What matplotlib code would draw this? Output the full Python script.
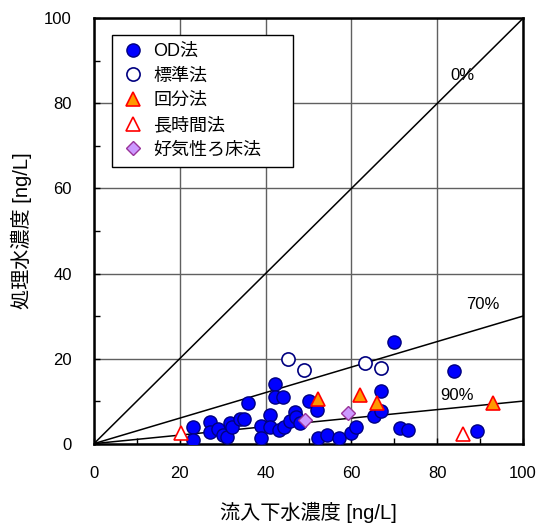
import matplotlib
matplotlib.use("Agg")
import matplotlib.pyplot as plt
from matplotlib.ticker import MultipleLocator

plt.rcParams['font.family'] = ['Liberation Sans', 'Noto Sans CJK JP', 'DejaVu Sans']

# OD法 (filled blue circles)
od_x = [23.1, 23.1, 27.0, 27.0, 29.0, 30.1, 30.9, 31.8, 32.1, 34.0, 35.0, 35.9, 38.9, 38.9,
        41.1, 41.1, 42.1, 42.1, 44.1, 43.1, 44.3, 45.8, 46.9, 47.2, 48.0, 50.1, 52.0, 52.1,
        54.2, 57.2, 59.9, 61.1, 65.3, 67.0, 67.0, 69.9, 71.3, 73.2, 84.0, 89.3]
od_y = [3.95, 0.8, 5.1, 2.8, 3.5, 2.0, 1.6, 4.8, 3.9, 5.7, 5.9, 9.5, 4.1, 1.4,
        6.7, 3.95, 14.1, 11.0, 11.0, 3.2, 3.95, 5.4, 7.5, 6.3, 4.8, 10.0, 8.0, 1.4,
        2.0, 1.3, 2.4, 3.8, 6.6, 7.7, 12.4, 24.0, 3.6, 3.3, 17.1, 2.9]
# 標準法 (open circles)
std_x = [45.2, 48.9, 63.1, 67.0]
std_y = [20.0, 17.3, 18.9, 17.9]
# 回分法 (orange triangles)
batch_x = [52.1, 62.1, 66.0, 92.9]
batch_y = [10.4, 11.4, 9.6, 9.6]
# 長時間法 (open triangles)
long_x = [20.2, 86.1]
long_y = [2.5, 2.2]
# 好気性ろ床法 (diamonds)
bio_x = [49.1, 59.1]
bio_y = [5.5, 7.1]

# reference removal lines: y = (1 - rate) * x
rates = [0.0, 0.7, 0.9]
rate_labels = ['0%', '70%', '90%']
rate_label_pos = [(85.8, 86.5), (90.7, 32.6), (84.6, 11.2)]

fig = plt.figure(figsize=(5.37, 5.25), dpi=100)
ax = fig.add_axes([0.175, 0.155, 0.799, 0.81])

ax.set_xlim(0, 100)
ax.set_ylim(0, 100)
ax.xaxis.set_major_locator(MultipleLocator(20))
ax.yaxis.set_major_locator(MultipleLocator(20))
ax.xaxis.set_minor_locator(MultipleLocator(10))
ax.yaxis.set_minor_locator(MultipleLocator(10))
ax.grid(True, which='major', color='#606060', linewidth=1.0, zorder=0)
ax.set_axisbelow(True)
ax.tick_params(which='both', direction='in', length=4, width=1, labelsize=12, pad=16)
for s in ax.spines.values():
    s.set_linewidth(1.8)
    s.set_color('black')

for r, lab, pos in zip(rates, rate_labels, rate_label_pos):
    ax.plot([0, 100], [0, 100 * (1 - r)], color='black', linewidth=1.1, zorder=2)
    ax.text(pos[0], pos[1], lab, fontsize=12, ha='center', va='center', zorder=3)

ax.plot(od_x, od_y, 'o', ms=9.5, mfc='#0000FF', mec='#000080', mew=1.0, ls='none',
        label='OD法', zorder=4)
ax.plot(std_x, std_y, 'o', ms=9.5, mfc='white', mec='#000080', mew=1.2, ls='none',
        label='標準法', zorder=4)
ax.plot(batch_x, batch_y, '^', ms=10, mfc='#FF9900', mec='#FF0000', mew=1.2, ls='none',
        label='回分法', zorder=5)
ax.plot(long_x, long_y, '^', ms=10, mfc='white', mec='#FF0000', mew=1.2, ls='none',
        label='長時間法', zorder=5)
ax.plot(bio_x, bio_y, 'D', ms=7.5, mfc='#CC99FF', mec='#993399', mew=1.0, ls='none',
        label='好気性ろ床法', zorder=5)

leg = ax.legend(loc='upper left', bbox_to_anchor=(0.042, 0.653, 0.422, 0.308),
                mode='expand', borderaxespad=0,
                fontsize=13, frameon=True, fancybox=False, edgecolor='black',
                framealpha=1, handletextpad=0.45, handlelength=1.4, labelspacing=0.42,
                borderpad=0.45)
leg.get_frame().set_linewidth(1.0)

ax.set_xlabel('流入下水濃度 [ng/L]', fontsize=14.5, labelpad=15)
ax.set_ylabel('処理水濃度 [ng/L]', fontsize=14.5, labelpad=9)

fig.savefig('out.png', dpi=100)
